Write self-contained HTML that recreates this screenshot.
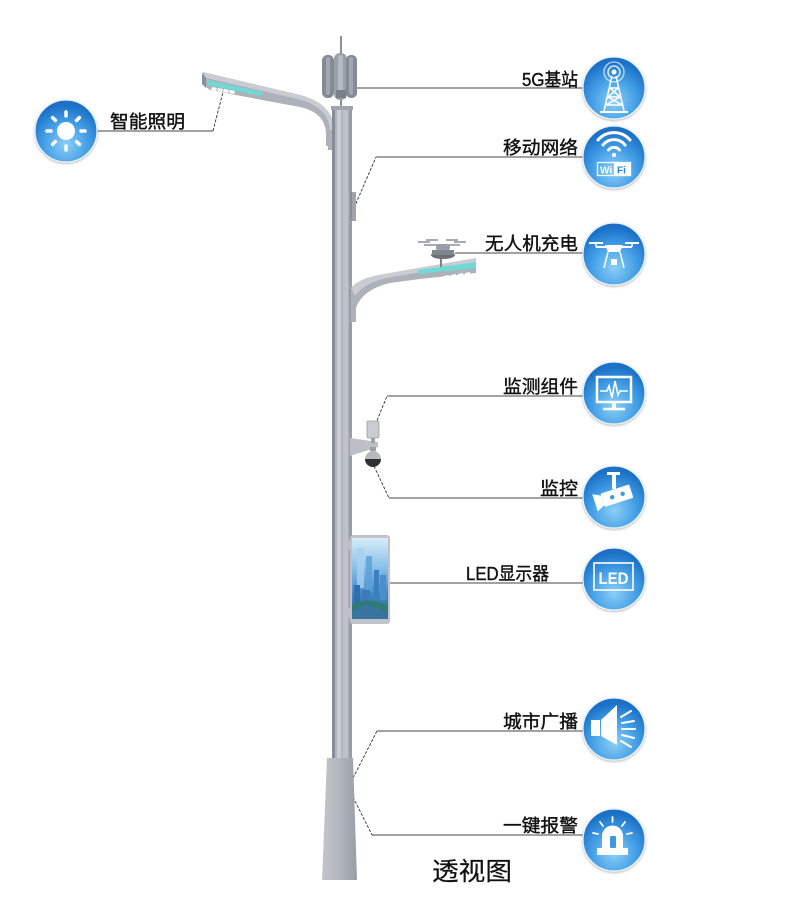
<!DOCTYPE html>
<html><head><meta charset="utf-8"><style>
html,body{margin:0;padding:0;background:#fff;}
svg{display:block;}
text{font-family:"Liberation Sans","Noto Sans CJK SC",sans-serif;}
</style></head><body>
<svg width="799" height="905" viewBox="0 0 799 905" xmlns="http://www.w3.org/2000/svg">
<defs>
<radialGradient id="cg" cx="50%" cy="72%" r="65%">
<stop offset="0" stop-color="#8ccff6"/>
<stop offset="0.55" stop-color="#449fe6"/>
<stop offset="1" stop-color="#1a70c6"/>
</radialGradient>
<linearGradient id="baseg" x1="0" x2="1" y1="0" y2="0">
<stop offset="0" stop-color="#c2c6cc"/>
<stop offset="0.5" stop-color="#b1b6bd"/>
<stop offset="1" stop-color="#989ea6"/>
</linearGradient>
<linearGradient id="scr" x1="0" x2="0" y1="0" y2="1">
<stop offset="0" stop-color="#d8ecf8"/>
<stop offset="0.35" stop-color="#8cc2ea"/>
<stop offset="0.7" stop-color="#3f86c8"/>
<stop offset="1" stop-color="#2f6d6a"/>
</linearGradient>
<filter id="sh" x="-20%" y="-20%" width="140%" height="140%">
<feDropShadow dx="0" dy="1" stdDeviation="1.2" flood-color="#000" flood-opacity="0.3"/>
</filter>
</defs>

<!-- connector lines -->
<g fill="none" stroke="#444" stroke-width="1.1">
<line x1="356" y1="88" x2="584" y2="88"/>
<line x1="376" y1="157" x2="584" y2="157"/>
<line x1="455" y1="253" x2="584" y2="253"/>
<line x1="387" y1="396" x2="584" y2="396"/>
<line x1="389" y1="498" x2="584" y2="498"/>
<line x1="388" y1="583" x2="584" y2="583"/>
<line x1="377" y1="731" x2="584" y2="731"/>
<line x1="372" y1="835" x2="584" y2="835"/>
<line x1="96" y1="131" x2="213" y2="131"/>
</g>
<g fill="none" stroke="#333" stroke-width="0.9" stroke-dasharray="3 1.5">
<line x1="354" y1="208" x2="376" y2="157"/>
<line x1="372" y1="433" x2="387" y2="396"/>
<line x1="372" y1="462" x2="389" y2="498"/>
<line x1="353" y1="778" x2="377" y2="731"/>
<line x1="353" y1="797" x2="372" y2="835"/>
<line x1="213" y1="131" x2="223" y2="92"/>
</g>

<!-- antenna mast -->
<line x1="341" y1="36" x2="341" y2="110" stroke="#8c929a" stroke-width="2"/>
<!-- antenna panels -->
<g>
<rect x="322" y="55" width="12" height="43" rx="5.5" fill="#858b94"/>
<rect x="334" y="53" width="13" height="47" rx="6" fill="#9aa0a8"/>
<rect x="346" y="55" width="11" height="43" rx="5" fill="#858b94"/>
<rect x="326" y="57" width="4" height="38" rx="2" fill="#a3a8b0"/>
<rect x="338" y="55" width="5" height="43" rx="2.5" fill="#b5bac1"/>
<rect x="349" y="57" width="4" height="38" rx="2" fill="#a3a8b0"/>
<rect x="336" y="90" width="10" height="8" fill="#7a8089"/>
</g>

<!-- upper lamp arm -->
<path d="M203,72 L300,95 C322,101 334,112 334,130 L334,150 L328,150 L328,146 L326,146 L326,133 C325,119 317,111 300,107 L262,100 L210,90 L202,84 Z" fill="#adb2ba"/>
<path d="M203,72 L300,95 C322,101 334,112 334,130 L330,130 C329,114 318,104 298,99 L206,78 Z" fill="#c9cdd3"/>
<path d="M202,73 L206,78 L206,88 L202,84 Z" fill="#8a9098"/>
<path d="M207,80 L262,92 L262,96 L207,85 Z" fill="#6fd9d6"/>
<g fill="#fff">
<path d="M212,87 L217,88 L216,91 L211,90 Z"/>
<path d="M218,88 L223,89 L222,92 L217,91 Z"/>
<path d="M224,89 L229,90 L228,93 L223,92 Z"/>
<path d="M230,90 L235,91 L234,94 L229,93 Z"/>
</g>

<!-- pole -->
<rect x="332" y="108" width="20" height="655" fill="#b0b5bd"/>
<rect x="332" y="108" width="3" height="655" fill="#878d96"/>
<rect x="337" y="108" width="4" height="655" fill="#cacdd3"/>
<rect x="343" y="108" width="5" height="655" fill="#bec2c8"/>
<rect x="349" y="108" width="3" height="655" fill="#989ea6"/>
<rect x="331" y="106" width="22" height="4" fill="#a1a6ae"/>

<!-- wifi box -->
<rect x="350" y="192" width="6" height="29" fill="#a0a5ac"/>
<rect x="350" y="192" width="2" height="29" fill="#8a9098"/>

<!-- lower lamp arm -->
<path d="M351,288 C358,280 370,276 390,273 L476,258 L476,273 L420,279 L390,283 C372,287 360,296 356,308 L356,322 L351,322 Z" fill="#adb2ba"/>
<path d="M351,288 C358,280 370,276 390,273 L476,258 L476,263 L392,277 C373,280 361,287 355,296 Z" fill="#c9cdd3"/>
<path d="M418,270 L476,262 L476,268 L418,274 Z" fill="#6fd9d6"/>
<g fill="#fff">
<path d="M444,276 L449,275 L449,277 L444,278 Z"/>
<path d="M451,275 L456,274 L456,276 L451,277 Z"/>
<path d="M458,274 L463,273 L463,275 L458,276 Z"/>
<path d="M465,273 L470,272 L470,274 L465,275 Z"/>
</g>
<!-- drone -->
<line x1="441" y1="257" x2="441" y2="267" stroke="#7d838b" stroke-width="2"/>
<ellipse cx="443" cy="255" rx="12" ry="4" fill="#6b7078"/>
<rect x="432" y="250" width="22" height="5" fill="#7f858d"/>
<g stroke="#8a9098" stroke-width="1.5">
<line x1="424" y1="245" x2="460" y2="245"/>
<line x1="418" y1="242" x2="430" y2="242"/>
<line x1="454" y1="242" x2="466" y2="242"/>
<line x1="426" y1="240" x2="438" y2="240"/>
<line x1="446" y1="240" x2="458" y2="240"/>
</g>
<rect x="436" y="244" width="14" height="6" rx="2" fill="#9ba0a8"/>

<!-- camera bracket -->
<path d="M350,438 L378,442 L378,447 L350,456 Z" fill="#bcc0c6"/>
<rect x="367" y="421" width="12" height="17" rx="1.5" fill="#c9ccd1" stroke="#9aa0a7" stroke-width="0.8"/>
<rect x="371" y="438" width="4" height="5" fill="#9aa0a7"/>
<circle cx="373" cy="459" r="8" fill="#b5bac0"/>
<path d="M365,459 A8,8 0 0 0 381,459 Z" fill="#2e3034"/>
<rect x="370" y="447" width="6" height="4" fill="#9aa0a7"/>

<!-- LED panel -->
<rect x="348" y="540" width="6" height="10" rx="2" fill="#bcc0c6"/>
<rect x="348" y="608" width="6" height="10" rx="2" fill="#bcc0c6"/>
<rect x="350" y="535" width="40" height="89" rx="3" fill="#c0c4ca"/>
<rect x="352" y="538" width="36" height="81" fill="url(#scr)"/>
<g>
<rect x="357" y="548" width="7" height="40" fill="#a9cff0" opacity="0.8"/>
<rect x="366" y="556" width="6" height="36" fill="#5d9fd8" opacity="0.8"/>
<rect x="374" y="570" width="5" height="28" fill="#3c7fc0"/>
<rect x="380" y="575" width="6" height="25" fill="#4a8fcc"/>
<rect x="354" y="585" width="6" height="18" fill="#2f6fb0"/>
<rect x="362" y="590" width="8" height="14" fill="#3a7bb8"/>
<path d="M352,604 Q370,596 388,606 L388,619 L352,619 Z" fill="#2f7a7a"/>
<path d="M352,612 L366,604 L388,612 L388,619 L352,619 Z" fill="#3b73a8" opacity="0.8"/>
</g>

<!-- base -->
<path d="M327,758 L353,758 L357,880 L322,880 Z" fill="url(#baseg)"/>

<!-- circles -->
<g filter="url(#sh)" stroke="#e8f4fc" stroke-width="1.2" fill="url(#cg)">
<circle cx="66" cy="131" r="31"/>
<circle cx="614" cy="88" r="31"/>
<circle cx="614" cy="157" r="31"/>
<circle cx="614" cy="254" r="31"/>
<circle cx="614" cy="393" r="31"/>
<circle cx="614" cy="497" r="31"/>
<circle cx="614" cy="579" r="31"/>
<circle cx="614" cy="729" r="31"/>
<circle cx="614" cy="840" r="31"/>
</g>

<!-- sun icon -->
<g fill="#fff" stroke="#fff">
<circle cx="66" cy="131" r="9" stroke="none"/>
<g stroke-width="3.5" stroke-linecap="round">
<line x1="66" y1="116" x2="66" y2="112"/>
<line x1="66" y1="146" x2="66" y2="150"/>
<line x1="51" y1="131" x2="47" y2="131"/>
<line x1="81" y1="131" x2="85" y2="131"/>
<line x1="55.4" y1="120.4" x2="52.6" y2="117.6"/>
<line x1="76.6" y1="120.4" x2="79.4" y2="117.6"/>
<line x1="55.4" y1="141.6" x2="52.6" y2="144.4"/>
<line x1="76.6" y1="141.6" x2="79.4" y2="144.4"/>
</g>
</g>

<!-- 5G tower icon -->
<g fill="none" stroke="#fff" stroke-width="1.6">
<circle cx="614" cy="72" r="2.5" fill="#fff" stroke="none"/>
<circle cx="614" cy="72" r="6" opacity="0.8"/>
<circle cx="614" cy="72" r="10" opacity="0.6"/>
<path d="M612,76 L604,111 M616,76 L624,111"/>
<path d="M610,88 L618,88 M608,97 L620,97 M606,105 L622,105"/>
<path d="M610,88 L620,97 L606,105 M618,88 L608,97 L622,105"/>
<path d="M600,112 L628,112" stroke-width="2"/>
</g>

<!-- wifi icon -->
<g fill="none" stroke="#fff" stroke-width="3" stroke-linecap="round">
<path d="M608.5,150 A7,7 0 0 1 619.5,150"/>
<path d="M603,145 A14,14 0 0 1 625,145"/>
<path d="M598,140 A21,21 0 0 1 630,140"/>
</g>
<circle cx="614" cy="155" r="2.2" fill="#fff"/>
<rect x="597.5" y="162.5" width="33" height="13" fill="none" stroke="#fff" stroke-width="1.3"/>
<rect x="614" y="163" width="16" height="12" fill="#fff"/>
<text x="600" y="173.5" font-size="10" font-weight="bold" fill="#fff">Wi</text>
<text x="617" y="173.5" font-size="10" font-weight="bold" fill="#2d86d6">Fi</text>

<!-- drone icon -->
<g stroke="#fff" fill="#fff">
<line x1="596" y1="247" x2="632" y2="247" stroke-width="2"/>
<line x1="589" y1="243" x2="603" y2="243" stroke-width="2"/>
<line x1="625" y1="243" x2="639" y2="243" stroke-width="2"/>
<line x1="596" y1="243" x2="596" y2="247" stroke-width="1.5"/>
<line x1="632" y1="243" x2="632" y2="247" stroke-width="1.5"/>
<path d="M605,245 L623,245 L620,252 L608,252 Z" stroke="none"/>
<line x1="608" y1="252" x2="604" y2="268" stroke-width="1.5"/>
<line x1="620" y1="252" x2="624" y2="268" stroke-width="1.5"/>
<rect x="611" y="259" width="6" height="6" stroke="none"/>
</g>

<!-- monitor icon -->
<g fill="none" stroke="#fff">
<rect x="597" y="377" width="34" height="25" stroke-width="2.5"/>
<polyline points="600,391 607,391 609,386 612,398 615,381 618,395 620,391 628,391" stroke-width="1.6"/>
<line x1="614" y1="402" x2="614" y2="408" stroke-width="4"/>
<line x1="603" y1="409" x2="625" y2="409" stroke-width="2.5"/>
</g>

<!-- camera icon -->
<g fill="#fff">
<rect x="607" y="472" width="13" height="3"/>
<rect x="612" y="474" width="4" height="15"/>
<g transform="rotate(-18 616 496)">
<rect x="602" y="489" width="30" height="14" rx="1"/>
<path d="M602,491 L594,487 L594,505 L602,501 Z"/>
<circle cx="612" cy="496" r="2.2" fill="#3f97e0"/>
<circle cx="623" cy="496" r="2.2" fill="#3f97e0"/>
</g>
</g>

<!-- LED icon -->
<rect x="594" y="563" width="39" height="27" fill="none" stroke="#fff" stroke-width="1.6"/>
<text x="613.5" y="584" font-size="17" font-weight="bold" fill="#fff" text-anchor="middle" textLength="30" lengthAdjust="spacingAndGlyphs">LED</text>

<!-- speaker icon -->
<g fill="#fff">
<rect x="591" y="720" width="9" height="16"/>
<path d="M601,720 L617,705 L617,745 L601,736 Z"/>
</g>
<g stroke="#fff" stroke-width="2" stroke-linecap="round">
<line x1="621" y1="717" x2="631" y2="711"/>
<line x1="622" y1="723" x2="634" y2="721"/>
<line x1="622" y1="729" x2="635" y2="729"/>
<line x1="622" y1="735" x2="634" y2="738"/>
<line x1="621" y1="741" x2="631" y2="747"/>
</g>

<!-- alarm icon -->
<g fill="#fff">
<path d="M602,848 L602,836 A10.5,10.5 0 0 1 623,836 L623,848 Z"/>
<rect x="597" y="848" width="31" height="7"/>
</g>
<rect x="610" y="836" width="6" height="12" rx="1" fill="#3f97e0"/>
<g stroke="#fff" stroke-width="1.8" stroke-linecap="round">
<line x1="612.5" y1="817" x2="612.5" y2="822"/>
<line x1="600" y1="822" x2="603" y2="826"/>
<line x1="625" y1="822" x2="622" y2="826"/>
<line x1="593" y1="833" x2="598" y2="834"/>
<line x1="632" y1="833" x2="627" y2="834"/>
</g>

<!-- labels -->
<g fill="#111" font-size="18" font-family="'Liberation Sans','Noto Sans CJK SC',sans-serif" stroke="#111" stroke-width="0.4">
<text x="522" y="86" textLength="56" lengthAdjust="spacingAndGlyphs">5G基站</text>
<text x="503" y="154" textLength="75" lengthAdjust="spacingAndGlyphs">移动网络</text>
<text x="485" y="250" textLength="93" lengthAdjust="spacingAndGlyphs">无人机充电</text>
<text x="503" y="393" textLength="75" lengthAdjust="spacingAndGlyphs">监测组件</text>
<text x="540" y="495" textLength="38" lengthAdjust="spacingAndGlyphs">监控</text>
<text x="466" y="580" textLength="83" lengthAdjust="spacingAndGlyphs">LED显示器</text>
<text x="503" y="728" textLength="75" lengthAdjust="spacingAndGlyphs">城市广播</text>
<text x="503" y="832" textLength="75" lengthAdjust="spacingAndGlyphs">一键报警</text>
<text x="110" y="128" textLength="75" lengthAdjust="spacingAndGlyphs">智能照明</text>
</g>
<text x="432" y="880" font-size="25" fill="#111" stroke="#111" stroke-width="0.2" textLength="80" lengthAdjust="spacingAndGlyphs" font-family="'Liberation Sans','Noto Sans CJK SC',sans-serif">透视图</text>
</svg>
</body></html>
